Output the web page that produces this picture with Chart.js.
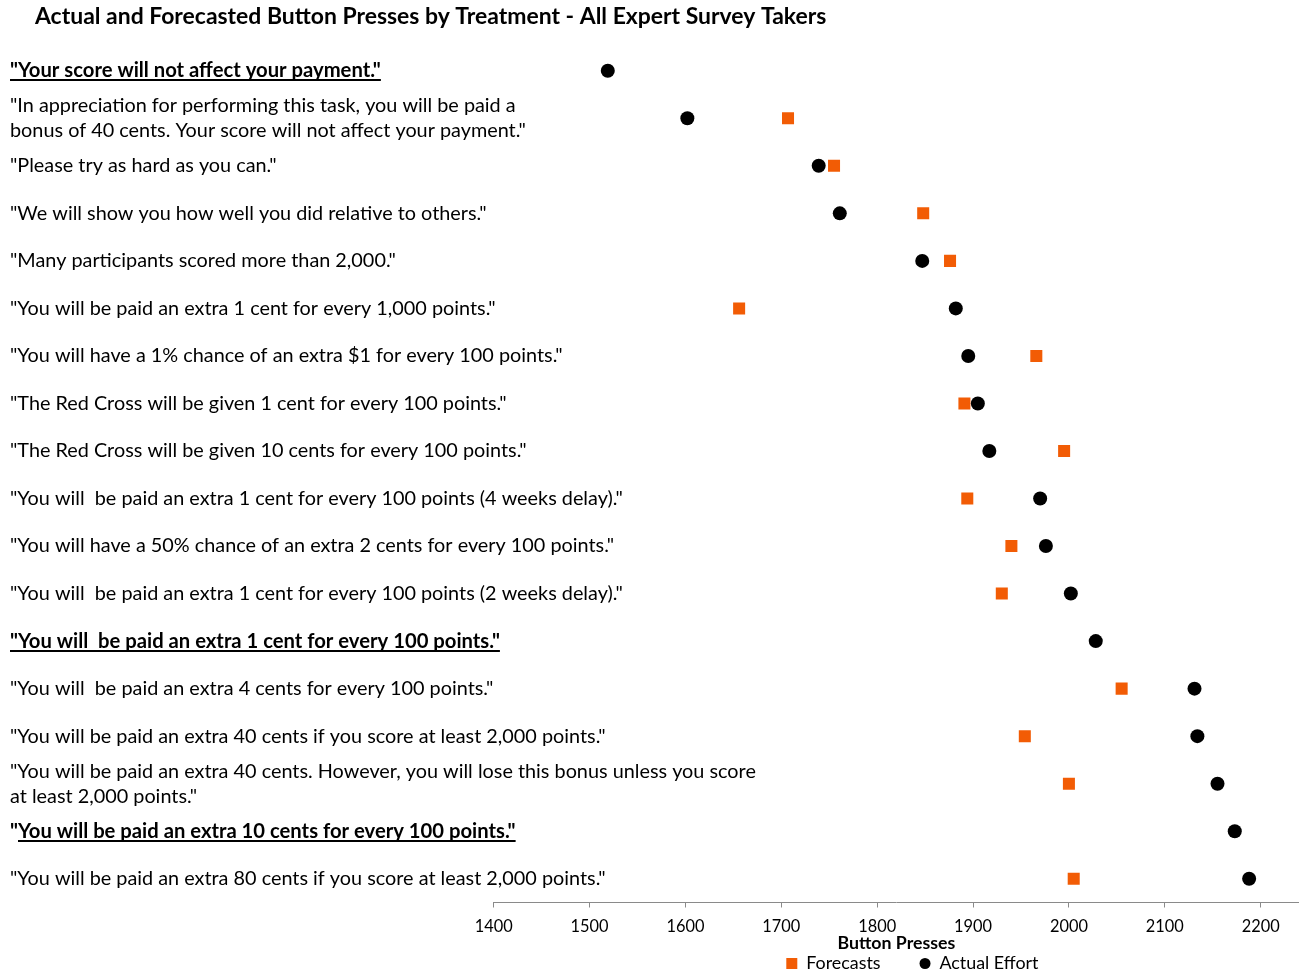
<!DOCTYPE html>
<html>
<head>
<meta charset="utf-8">
<script src="https://cdn.jsdelivr.net/npm/chart.js@4.4.1/dist/chart.umd.min.js"></script>
<style>
  html, body { margin: 0; padding: 0; background: #ffffff; }
  canvas { display: block; }
</style>
</head>
<body>
<canvas id="chart" width="1299" height="976"></canvas>
<script>
// ---------------- DATA ----------------
const chartTitle = 'Actual and Forecasted Button Presses by Treatment - All Expert Survey Takers';
const xAxisTitle = 'Button Presses';

const categories = [
  '"Your score will not affect your payment."',
  ['"In appreciation for performing this task, you will be paid a', 'bonus of 40 cents. Your score will not affect your payment."'],
  '"Please try as hard as you can."',
  '"We will show you how well you did relative to others."',
  '"Many participants scored more than 2,000."',
  '"You will be paid an extra 1 cent for every 1,000 points."',
  '"You will have a 1% chance of an extra $1 for every 100 points."',
  '"The Red Cross will be given 1 cent for every 100 points."',
  '"The Red Cross will be given 10 cents for every 100 points."',
  '"You will  be paid an extra 1 cent for every 100 points (4 weeks delay)."',
  '"You will have a 50% chance of an extra 2 cents for every 100 points."',
  '"You will  be paid an extra 1 cent for every 100 points (2 weeks delay)."',
  '"You will  be paid an extra 1 cent for every 100 points."',
  '"You will  be paid an extra 4 cents for every 100 points."',
  '"You will be paid an extra 40 cents if you score at least 2,000 points."',
  ['"You will be paid an extra 40 cents. However, you will lose this bonus unless you score', 'at least 2,000 points."'],
  '"You will be paid an extra 10 cents for every 100 points."',
  '"You will be paid an extra 80 cents if you score at least 2,000 points."'
];
// baseline treatments shown bold + underlined
const boldCategories = [0, 12, 16];
// the underline of this one starts after the opening quote
const underlineAfterQuote = [16];

const forecasts    = [null, 1707, 1755, 1848, 1876, 1656, 1966, 1891, 1995, 1894, 1940, 1930, null, 2055, 1954, 2000, null, 2005];
const actualEffort = [1519, 1602, 1739, 1761, 1847, 1882, 1895, 1905, 1917, 1970, 1976, 2002, 2028, 2131, 2134, 2155, 2173, 2188];

const xTickValues = [1400, 1500, 1600, 1700, 1800, 1900, 2000, 2100, 2200];
const xMin = 1400;
const xMax = 2240;

// ---------------- STYLE / LAYOUT ----------------
const FAMILY = 'Lato, "Open Sans", "DejaVu Sans", sans-serif';
const ORANGE = '#F25C05';
const BLACK = '#000000';
const AXIS_GREY = '#8A8A8A';

const W = 1299, H = 976;
const TITLE_X = 35, TITLE_CY = 17;
const AREA_TOP = 47, AREA_BOTTOM = 902.5, AREA_LEFT = 493.7;
const LABEL_X = 10;
const TICK_LEN = 5;
const TICK_CY = 926.5, AXIS_TITLE_CY = 943.5, LEGEND_CY = 963.5;
const LEGEND_SHIFT = 16;

const mctx = document.createElement('canvas').getContext('2d');
function fitSize(text, weight, target) {
  mctx.font = weight + ' 100px ' + FAMILY;
  return 100 * target / mctx.measureText(text).width;
}
const labelSize = fitSize('"Many participants scored more than 2,000."', 'normal', 386);
const boldLabelSize = fitSize('"Your score will not affect your payment."', 'bold', 371);
const titleSize = fitSize(chartTitle, 'bold', 792);
const tickSize = fitSize('1400', 'normal', 38);
const axisTitleSize = fitSize(xAxisTitle, 'bold', 118);
const legendSize = fitSize('Actual Effort', 'normal', 99);
const LABEL_LH = 25;

Chart.defaults.font.family = FAMILY;
Chart.defaults.color = BLACK;

// title box
const titleLH = titleSize * 1.2;
const titlePadTop = TITLE_CY - titleLH / 2;
const titlePadBottom = AREA_TOP - titlePadTop - titleLH;

// x axis (Chart.js reserves the tick padding twice in the axis height)
const tickPad = TICK_CY - AREA_BOTTOM - TICK_LEN - tickSize / 2;
const axisTitlePadTop = AXIS_TITLE_CY - AREA_BOTTOM - TICK_LEN - 2 * tickPad - tickSize - axisTitleSize / 2;
const xScaleBottom = AXIS_TITLE_CY + axisTitleSize / 2;

// legend
const LEGEND_GAP = 39;
const legendHeight = H - xScaleBottom;
const legendTitleH = LEGEND_CY - xScaleBottom - LEGEND_GAP - legendSize / 2;

const underlinePlugin = {
  id: 'underlineLabels',
  afterDraw(chart) {
    const ys = chart.scales.y;
    const ctx = chart.ctx;
    ctx.save();
    ctx.font = 'bold ' + boldLabelSize + 'px ' + FAMILY;
    ctx.textBaseline = 'middle';
    const baseOff = ctx.measureText('x').actualBoundingBoxDescent;
    ctx.fillStyle = BLACK;
    boldCategories.forEach(i => {
      const txt = categories[i];
      const full = ctx.measureText(txt).width;
      const skip = underlineAfterQuote.includes(i) ? ctx.measureText('"').width : 0;
      const y = ys.getPixelForTick(i) + baseOff + 2;
      ctx.fillRect(LABEL_X + skip, Math.round(y), full - skip, 2);
    });
    ctx.restore();
  }
};

const legendShiftPlugin = {
  id: 'legendShift',
  afterLayout(chart) {
    if (chart.legend) {
      chart.legend.left += LEGEND_SHIFT;
      chart.legend.right += LEGEND_SHIFT;
    }
  }
};

new Chart(document.getElementById('chart'), {
  type: 'line',
  data: {
    labels: categories,
    datasets: [
      {
        label: 'Forecasts',
        data: forecasts,
        showLine: false,
        pointStyle: 'rect',
        pointRadius: 8.5,
        pointHoverRadius: 8.5,
        pointBorderWidth: 0,
        backgroundColor: ORANGE,
        borderColor: ORANGE,
        order: 2
      },
      {
        label: 'Actual Effort',
        data: actualEffort,
        showLine: false,
        pointStyle: 'circle',
        pointRadius: 7,
        pointHoverRadius: 7,
        pointBorderWidth: 0,
        backgroundColor: BLACK,
        borderColor: BLACK,
        order: 1
      }
    ]
  },
  options: {
    indexAxis: 'y',
    responsive: false,
    animation: false,
    devicePixelRatio: 1,
    layout: { autoPadding: false, padding: { left: TITLE_X, right: 0, top: 0, bottom: 0 } },
    scales: {
      x: {
        type: 'linear',
        position: 'bottom',
        min: xMin,
        max: xMax,
        afterBuildTicks: (s) => { s.ticks = xTickValues.map(v => ({ value: v })); },
        afterFit: (s) => { s.paddingLeft = 0; s.paddingRight = 0; },
        grid: { display: true, drawOnChartArea: false, drawTicks: true, tickLength: TICK_LEN, color: AXIS_GREY, lineWidth: 1 },
        border: { display: true, color: AXIS_GREY, width: 1 },
        ticks: {
          padding: tickPad,
          color: BLACK,
          maxRotation: 0,
          callback: (v) => String(v),
          font: { family: FAMILY, size: tickSize, lineHeight: 1 }
        },
        title: {
          display: true,
          text: xAxisTitle,
          color: BLACK,
          font: { family: FAMILY, size: axisTitleSize, weight: 'bold', lineHeight: 1 },
          padding: { top: axisTitlePadTop, bottom: 0 }
        }
      },
      y: {
        type: 'category',
        position: 'left',
        offset: true,
        grid: { display: false },
        border: { display: false },
        afterFit: (s) => { s.width = AREA_LEFT - TITLE_X; s.paddingTop = 0; s.paddingBottom = 0; },
        ticks: {
          autoSkip: false,
          mirror: true,
          crossAlign: 'near',
          padding: -(AREA_LEFT - LABEL_X),
          color: BLACK,
          font: (ctx) => boldCategories.includes(ctx.index)
            ? { family: FAMILY, size: boldLabelSize, weight: 'bold', lineHeight: LABEL_LH / boldLabelSize }
            : { family: FAMILY, size: labelSize, weight: 'normal', lineHeight: LABEL_LH / labelSize }
        }
      }
    },
    plugins: {
      title: {
        display: true,
        text: chartTitle,
        align: 'start',
        color: BLACK,
        font: { family: FAMILY, size: titleSize, weight: 'bold', lineHeight: 1.2 },
        padding: { top: titlePadTop, bottom: titlePadBottom }
      },
      legend: {
        display: true,
        position: 'bottom',
        fullSize: false,
        maxHeight: legendHeight,
        title: {
          display: true,
          text: '',
          font: { size: 1, lineHeight: 1 },
          padding: { top: 0, bottom: legendTitleH - 1 }
        },
        labels: {
          boxWidth: 11,
          boxHeight: 11,
          padding: LEGEND_GAP,
          color: BLACK,
          font: { family: FAMILY, size: legendSize },
          generateLabels: (chart) => chart.data.datasets.map((ds, i) => ({
            text: ds.label,
            fillStyle: ds.backgroundColor,
            strokeStyle: ds.backgroundColor,
            lineWidth: 0,
            borderRadius: ds.pointStyle === 'circle' ? 5.5 : 0,
            fontColor: BLACK,
            hidden: !chart.isDatasetVisible(i),
            datasetIndex: i
          }))
        }
      },
      tooltip: { enabled: false }
    }
  },
  plugins: [underlinePlugin, legendShiftPlugin]
});
</script>
</body>
</html>
